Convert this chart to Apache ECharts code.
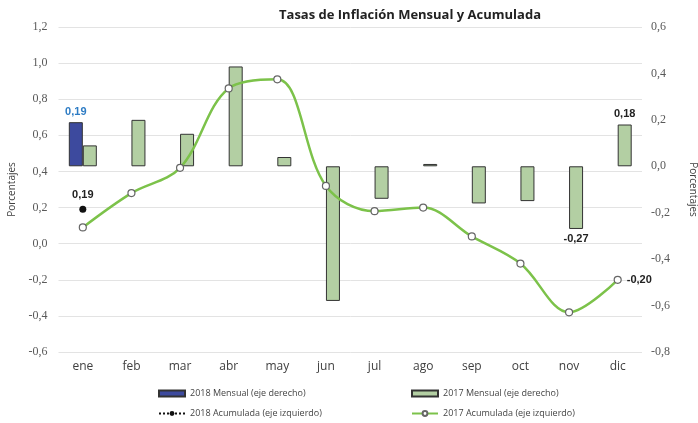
<!DOCTYPE html>
<html>
<head>
<meta charset="UTF-8">
<title>Tasas de Inflación</title>
<script src="https://cdn.jsdelivr.net/npm/echarts@6/dist/echarts.min.js"></script>
<style>
  html, body { margin: 0; padding: 0; background: #fff; }
  #main { width: 698px; height: 423px; }
</style>
</head>
<body>
<div id="main"></div>
<script>
// datos
var meses = ['ene', 'feb', 'mar', 'abr', 'may', 'jun', 'jul', 'ago', 'sep', 'oct', 'nov', 'dic'];
var mensual2018 = [0.19, null, null, null, null, null, null, null, null, null, null, null];
var mensual2017 = [0.09, 0.20, 0.14, 0.43, 0.04, -0.58, -0.14, 0.01, -0.16, -0.15, -0.27, 0.18];
var acum2018 = [0.19, null, null, null, null, null, null, null, null, null, null, null];
var acum2017 = [0.09, 0.28, 0.42, 0.86, 0.91, 0.32, 0.18, 0.20, 0.04, -0.11, -0.38, -0.20];

var fmt = function (v) { return v.toFixed(1).replace('.', ','); };
var fmt2 = function (v) { return v.toFixed(2).replace('.', ','); };
var tickFont = { fontFamily: '"Liberation Serif", "DejaVu Serif", serif', fontSize: 12, color: '#595959' };
var legFont = { fontFamily: 'Open Sans', fontSize: 9, color: '#444' };

// etiquetas solo en algunos puntos
function lbl(pos, color) {
  return {
    show: true, position: pos, color: color, fontWeight: 'bold',
    fontFamily: 'Liberation Sans', fontSize: 11,
    formatter: function (p) { return fmt2(p.value); }
  };
}
var m17 = mensual2017.map(function (v, i) {
  if (i === 11) return { value: v, label: lbl('top', '#222') };
  if (i === 10) return { value: v, label: lbl('bottom', '#222') };
  return v;
});
var a17 = acum2017.map(function (v, i) {
  if (i === 11) return { value: v, label: lbl('right', '#222') };
  return v;
});

function leyenda(name, left, top, icon) {
  var l = { left: left, top: top, padding: 0, itemWidth: 26, itemHeight: 6,
    textStyle: legFont, data: [name] };
  if (icon) l.icon = icon;
  return l;
}

var chart = echarts.init(document.getElementById('main'));
chart.setOption({
  animation: false,
  title: {
    text: 'Tasas de Inflación Mensual y Acumulada',
    left: 405, top: 4, textAlign: 'center',
    textStyle: { fontFamily: 'Open Sans', fontWeight: 'bold', fontSize: 13, color: '#222' }
  },
  grid: { left: 58.5, right: 56, top: 27, bottom: 71, outerBoundsMode: 'none', containLabel: false },
  legend: [
    leyenda('2018 Mensual (eje derecho)', 158, 389, 'rect'),
    leyenda('2018 Acumulada (eje izquierdo)', 158, 409),
    leyenda('2017 Mensual (eje derecho)', 411, 389, 'rect'),
    leyenda('2017 Acumulada (eje izquierdo)', 411, 409)
  ],
  xAxis: {
    type: 'category', data: meses,
    axisLine: { show: false }, axisTick: { show: false },
    axisLabel: { fontFamily: 'Open Sans', fontSize: 12, color: '#404040', margin: 9 }
  },
  yAxis: [
    {
      type: 'value', min: -0.6, max: 1.2, interval: 0.2,
      name: 'Porcentajes', nameLocation: 'middle', nameGap: 40, nameRotate: 90,
      nameTextStyle: { fontFamily: 'Open Sans', fontSize: 10, color: '#404040' },
      axisLabel: Object.assign({ formatter: fmt, margin: 11 }, tickFont),
      splitLine: { lineStyle: { color: '#e3e3e3' } }
    },
    {
      type: 'value', min: -0.8, max: 0.6, interval: 0.2,
      name: 'Porcentajes', nameLocation: 'middle', nameGap: 46, nameRotate: -90,
      nameTextStyle: { fontFamily: 'Open Sans', fontSize: 10, color: '#404040' },
      axisLabel: Object.assign({ formatter: fmt, margin: 9 }, tickFont),
      splitLine: { show: false }
    }
  ],
  series: [
    {
      name: '2018 Mensual (eje derecho)', type: 'bar', yAxisIndex: 1,
      data: mensual2018, barWidth: 14, barGap: '0%',
      itemStyle: { color: '#3d4a9e', borderColor: '#333', borderWidth: 1 },
      label: { show: true, position: 'top', color: '#2e7cc4', fontWeight: 'bold',
        fontFamily: 'Liberation Sans', fontSize: 11,
        formatter: function (p) { return p.value == null ? '' : fmt2(p.value); } }
    },
    {
      name: '2017 Mensual (eje derecho)', type: 'bar', yAxisIndex: 1,
      data: m17, barWidth: 14, barGap: '0%',
      itemStyle: { color: '#b3cfa3', borderColor: '#333', borderWidth: 1 }
    },
    {
      name: '2018 Acumulada (eje izquierdo)', type: 'line', yAxisIndex: 0, z: 5,
      data: acum2018, symbol: 'circle', symbolSize: 7,
      lineStyle: { type: 'dotted', color: '#111', width: 2 },
      itemStyle: { color: '#111' },
      label: { show: true, position: 'top', color: '#222', fontWeight: 'bold',
        fontFamily: 'Liberation Sans', fontSize: 11,
        formatter: function (p) { return p.value == null ? '' : fmt2(p.value); } }
    },
    {
      name: '2017 Acumulada (eje izquierdo)', type: 'line', yAxisIndex: 0, z: 4,
      data: a17, smooth: 0.35, symbol: 'circle', symbolSize: 7,
      lineStyle: { color: '#7cc24a', width: 2.5 },
      itemStyle: { color: '#fff', borderColor: '#666', borderWidth: 1.2 }
    }
  ]
});
</script>
</body>
</html>
